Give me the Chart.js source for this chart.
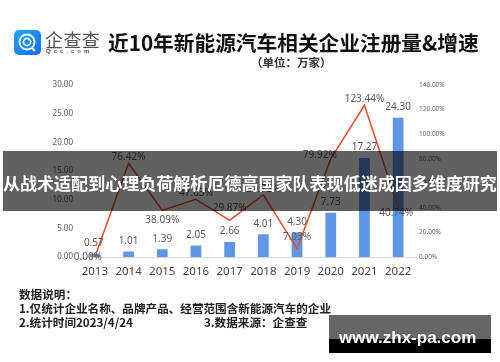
<!DOCTYPE html>
<html lang="zh">
<head>
<meta charset="utf-8">
<style>
html,body{margin:0;padding:0;background:#fff;width:500px;height:362px;overflow:hidden;font-family:"Noto Sans CJK SC",sans-serif}
#c{position:absolute;left:0;top:0}
.t{position:absolute;white-space:nowrap;line-height:1}
</style>
<script src="https://cdn.jsdelivr.net/npm/chart.js@4"></script>
</head>
<body>
<canvas id="c" width="500" height="362"></canvas>
<svg class="t" style="left:14px;top:30px" width="27" height="25" viewBox="0 0 27 25">
<defs><linearGradient id="g" x1="0" y1="0" x2="1" y2="1"><stop offset="0" stop-color="#27a4fb"/><stop offset="1" stop-color="#0f6ff2"/></linearGradient></defs>
<rect width="27" height="25" rx="5" fill="url(#g)"/>
<circle cx="13" cy="12" r="7.5" fill="none" stroke="#fff" stroke-width="1.8"/>
<circle cx="13" cy="12" r="3.6" fill="none" stroke="#fff" stroke-width="1.6"/>
<path d="M18 18l3 3" stroke="#fff" stroke-width="2"/>
</svg>
<div class="t" style="left:45px;top:30px;font-size:18px;letter-spacing:.4px;color:#555">企查查</div>
<div class="t" style="left:46px;top:48px;font:700 6px 'Liberation Sans',sans-serif;letter-spacing:3px;color:#555">Qcc.com</div>
<div class="t" style="left:108px;top:32px;font-size:20.7px;font-weight:700;color:#111">近10年新能源汽车相关企业注册量&amp;增速</div>
<div class="t" style="left:251px;top:57px;font-size:11.5px;font-weight:700;color:#333">（单位：万家）</div>
<div class="t" style="left:19px;top:289px;font-size:11.6px;font-weight:700;color:#222">数据说明：</div>
<div class="t" style="left:19px;top:303px;font-size:11.6px;font-weight:700;color:#222">1.仅统计企业名称、品牌产品、经营范围含新能源汽车的企业</div>
<div class="t" style="left:19px;top:317px;font-size:11.6px;font-weight:700;color:#222">2.统计时间2023/4/24</div>
<div class="t" style="left:204px;top:317px;font-size:11.6px;font-weight:700;color:#222">3.数据来源：企查查</div>
<div class="t" style="left:3px;top:151px;width:494px;height:60px;background:rgba(0,0,0,.62)"></div>
<div class="t" style="left:3px;top:174px;font-size:17.05px;font-weight:700;color:#fff">从战术适配到心理负荷解析厄德高国家队表现低迷成因多维度研究</div>
<div class="t" style="left:329px;top:315px;width:162px;height:24px;background:#666"></div>
<div class="t" style="left:329px;top:339px;width:162px;height:14px;background:#000"></div>
<div class="t" style="left:339px;top:328px;font:700 17px 'Liberation Sans',sans-serif;color:#fff">www.zhx-pa.com</div>
<script>
const categories = ["2013","2014","2015","2016","2017","2018","2019","2020","2021","2022"];
const companies = [0.57,1.01,1.39,2.05,2.66,4.01,4.30,7.73,17.27,24.30];
const growth = [0.00,76.42,38.09,47.03,29.87,50.75,7.03,79.92,123.44,40.74];
const leftTicks = [0,5,10,15,20,25,30];
const rightTicks = [0,20,40,60,80,100,120,140];
const FONT = '"Noto Sans","DejaVu Sans",sans-serif';
const labelOffsets = [[-7,0],[0,-6],[0,10],[0,-6],[0,-12],[0,-6],[0,-11],[-11,-4],[0,-6],[-2,6]];

const valueLabels = {
  id:'valueLabels',
  afterDatasetsDraw(chart){
    const c = chart.ctx, x = chart.scales.x, yL = chart.scales.y, yR = chart.scales.y1;
    c.save();
    c.font = '10px '+FONT; c.fillStyle='#595959'; c.textAlign='center'; c.textBaseline='middle';
    categories.forEach((_,i)=>{
      c.fillText(companies[i].toFixed(2), x.getPixelForValue(i)+(i===0?-1:0), yL.getPixelForValue(companies[i])-10.5);
      const o = labelOffsets[i];
      c.fillText(growth[i].toFixed(2)+'%', x.getPixelForValue(i)+o[0], yR.getPixelForValue(growth[i])+o[1]);
    });
    c.restore();
  }
};

new Chart(document.getElementById('c'),{
  type:'bar',
  data:{labels:categories,datasets:[
    {type:'line',data:growth,yAxisID:'y1',borderColor:'#ec4a26',borderWidth:1.5,pointRadius:0,tension:0,order:0},
    {type:'bar',data:companies,yAxisID:'y',backgroundColor:'#5f97e6',barPercentage:.32,categoryPercentage:1,order:1}
  ]},
  options:{
    responsive:false,animation:false,
    layout:{padding:{left:0,right:0,top:0,bottom:0}},
    plugins:{legend:{display:false},tooltip:{enabled:false}},
    scales:{
      x:{
        grid:{display:false,drawTicks:false},border:{color:'#d9d9d9'},
        ticks:{color:'#444',font:{size:11.5,family:FONT},padding:8,maxRotation:0,autoSkip:false}
      },
      y:{
        position:'left',min:0,max:30,afterBuildTicks(s){s.ticks=leftTicks.map(v=>({value:v}))},
        afterFit(s){s.width=78},
        grid:{display:false,drawTicks:false},border:{display:false},
        ticks:{color:'#595959',font:{size:8,family:FONT},padding:5,callback:v=>v.toFixed(2)}
      },
      y1:{
        position:'right',min:0,max:140,afterBuildTicks(s){s.ticks=rightTicks.map(v=>({value:v}))},
        afterFit(s){s.width=85},
        grid:{display:false,drawTicks:false},border:{display:false},
        ticks:{color:'#666',font:{size:6.5,family:FONT},padding:4,callback:v=>v.toFixed(2)+'%'}
      }
    }
  },
  plugins:[valueLabels,{
    id:'box',
    beforeLayout(chart){chart.options.layout.padding={top:85,bottom:75,left:0,right:0}}
  }]
});
</script>
</body>
</html>
